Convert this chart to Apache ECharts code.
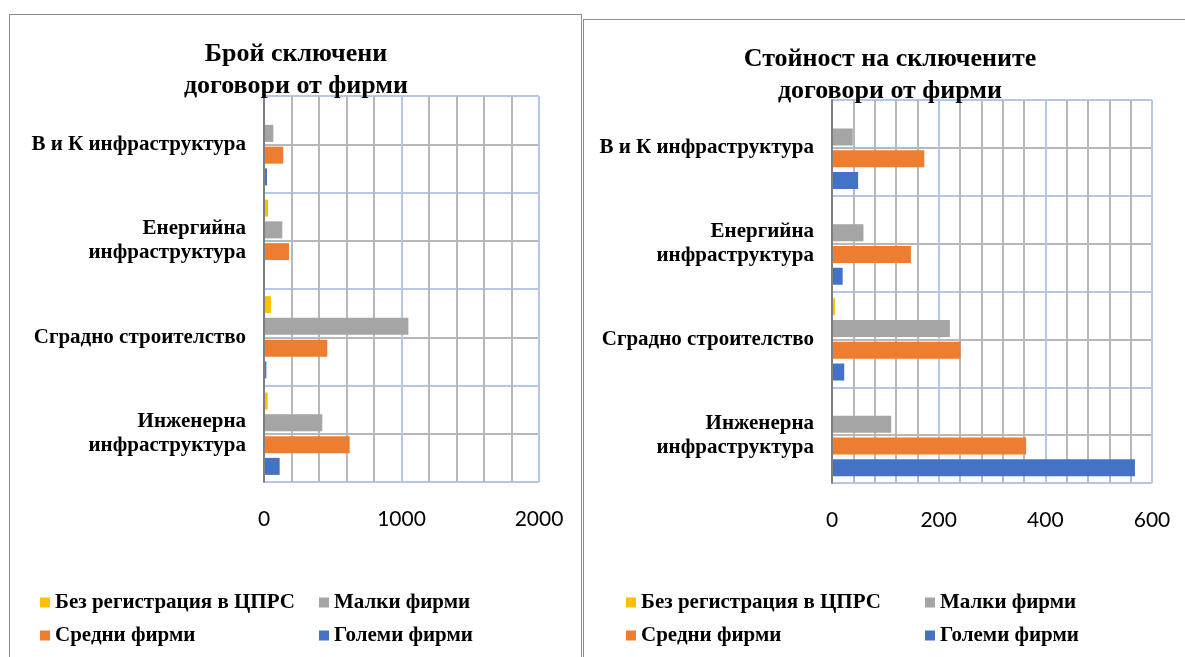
<!DOCTYPE html>
<html>
<head>
<meta charset="utf-8">
<script src="https://cdn.jsdelivr.net/npm/echarts@6/dist/echarts.min.js"></script>
<style>
  html, body { margin: 0; padding: 0; background: #fff; }
  #frameLeft { position: absolute; left: 9px; top: 14px; width: 571px; height: 700px; border: 1.5px solid #8c8c8c; }
  #frameRight { position: absolute; left: 583px; top: 19px; width: 700px; height: 700px; border: 1.5px solid #8c8c8c; }
  #chart { position: absolute; left: 0; top: 0; width: 1185px; height: 657px; }
</style>
</head>
<body>
<div id="frameLeft"></div>
<div id="frameRight"></div>
<div id="chart"></div>
<script>
const categories = ['В и К инфраструктура', 'Енергийна\nинфраструктура', 'Сградно строителство', 'Инженерна\nинфраструктура']
const seriesNames = ['Без регистрация в ЦПРС', 'Малки фирми', 'Средни фирми', 'Големи фирми']
const seriesColors = ['#ffc000', '#a5a5a5', '#ed7d31', '#4472c4']

// брой договори
const countNoReg = [0, 30, 50, 27]
const countSmall = [68, 133, 1050, 424]
const countMedium = [140, 182, 460, 623]
const countLarge = [22, 2, 17, 114]

// стойност на договорите
const valueNoReg = [0, 1.5, 5.5, 2]
const valueSmall = [39, 59, 221, 111]
const valueMedium = [173, 148, 241, 364]
const valueLarge = [49, 20, 23, 568]

const serif = 'Liberation Serif'
const blueGrid = '#b4c7e7'
const grayGrid = '#b8b8b8'

const makeX = (gridIndex, max, interval) => ({
  type: 'value',
  gridIndex,
  min: 0,
  max,
  interval,
  axisLine: { show: false },
  axisTick: { show: false },
  axisLabel: { color: '#000', fontFamily: 'Lato', fontSize: 21, margin: 27, formatter: (v) => String(v) },
  splitLine: { show: true, lineStyle: { color: blueGrid, width: 2 } },
  minorTick: { show: false, splitNumber: 5 },
  minorSplitLine: { show: true, lineStyle: { color: grayGrid, width: 2 } },
})

const makeCatY = (gridIndex) => ({
  type: 'category',
  gridIndex,
  inverse: true,
  data: categories,
  axisTick: { show: false },
  axisLine: { show: true, lineStyle: { color: '#808080', width: 2 } },
  axisLabel: { color: '#000', fontFamily: serif, fontWeight: 'bold', fontSize: 21, lineHeight: 24, margin: 18 },
  z: 5,
})

// скрита ос само за хоризонталните линии (сини граници, сиви по средата)
const makeLinesY = (gridIndex) => ({
  type: 'value',
  gridIndex,
  min: 0,
  max: 8,
  interval: 1,
  axisLine: { show: false },
  axisTick: { show: false },
  axisLabel: { show: false },
  splitLine: { show: true, lineStyle: { color: [blueGrid, grayGrid], width: 2 } },
})

const makeSeries = (axisIndex, lists) =>
  lists.map((data, i) => ({
    name: seriesNames[i],
    type: 'bar',
    xAxisIndex: axisIndex,
    yAxisIndex: axisIndex * 2,
    data,
    barWidth: 17,
    barGap: '28%',
    itemStyle: { color: seriesColors[i] },
  }))

const legendText = { color: '#000', fontFamily: serif, fontWeight: 'bold', fontSize: 21 }
const makeLegend = (left, data) => ({
  orient: 'vertical',
  left,
  top: 592,
  data,
  icon: 'rect',
  itemWidth: 10,
  itemHeight: 10,
  itemGap: 12,
  padding: 0,
  textStyle: legendText,
  selectedMode: false,
})

const chart = echarts.init(document.getElementById('chart'))

const titleStyle = { fontFamily: serif, fontWeight: 'bold', fontSize: 26, lineHeight: 32, color: '#000' }

const option = {
  animation: false,
  title: [
    { text: 'Брой сключени\nдоговори от фирми', left: 291, top: 33, textAlign: 'center', textStyle: titleStyle },
    { text: 'Стойност на сключените\nдоговори от фирми', left: 885, top: 38, textAlign: 'center', textStyle: titleStyle },
  ],
  legend: [
    makeLegend(40, [seriesNames[0], seriesNames[2]]),
    makeLegend(319, [seriesNames[1], seriesNames[3]]),
    makeLegend(626, [seriesNames[0], seriesNames[2]]),
    makeLegend(925, [seriesNames[1], seriesNames[3]]),
  ],
  grid: [
    { left: 264, top: 96, width: 275, height: 386 },
    { left: 832, top: 100, width: 320, height: 383 },
  ],
  xAxis: [makeX(0, 2000, 1000), makeX(1, 600, 200)],
  yAxis: [makeCatY(0), makeLinesY(0), makeCatY(1), makeLinesY(1)],
  series: [
    ...makeSeries(0, [countNoReg, countSmall, countMedium, countLarge]),
    ...makeSeries(1, [valueNoReg, valueSmall, valueMedium, valueLarge]),
  ],
}

chart.setOption(option)
</script>
</body>
</html>
